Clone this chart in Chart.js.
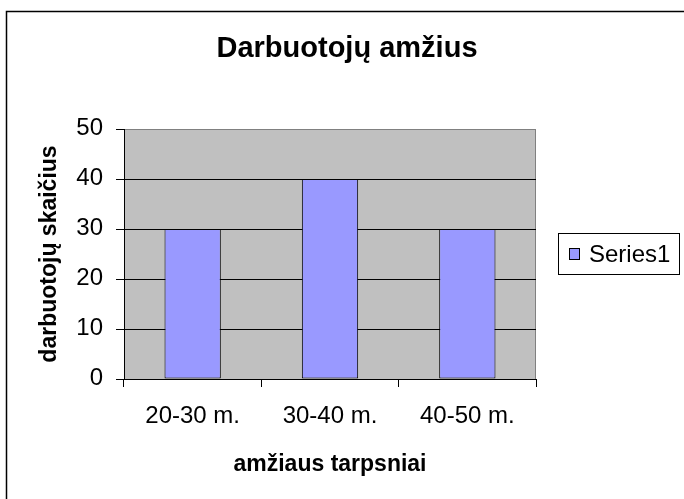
<!DOCTYPE html>
<html>
<head>
<meta charset="utf-8">
<script src="https://cdn.jsdelivr.net/npm/chart.js@4"></script>
<style>
  html, body { margin: 0; padding: 0; background: #fff; }
  #wrap { width: 684px; height: 499px; }
</style>
</head>
<body>
<div id="wrap"><canvas id="c" width="684" height="499"></canvas></div>
<script>
const chartTitle = 'Darbuotojų amžius';
const categories = ['20-30 m.', '30-40 m.', '40-50 m.'];
const seriesName = 'Series1';
const seriesValues = [30, 40, 30];
const yMin = 0, yMax = 50, yStep = 10;
const xTitle = 'amžiaus tarpsniai';
const yTitle = 'darbuotojų skaičius';

const FONT = "'Liberation Sans', Arial, sans-serif";

const decor = {
  id: 'decor',
  beforeDraw(chart) {
    const ctx = chart.ctx;
    const a = chart.chartArea;
    ctx.save();
    ctx.fillStyle = '#ffffff';
    ctx.fillRect(0, 0, chart.width, chart.height);
    // outer frame
    ctx.strokeStyle = '#000000';
    ctx.lineWidth = 1.5;
    ctx.strokeRect(6.5, 11.5, 800, 600);
    // plot background
    ctx.fillStyle = '#C0C0C0';
    ctx.fillRect(a.left, a.top, a.right - a.left, a.bottom - a.top);
    ctx.strokeStyle = '#808080';
    ctx.lineWidth = 1;
    ctx.beginPath();
    ctx.moveTo(a.left, a.top + 0.5);
    ctx.lineTo(a.right - 0.5, a.top + 0.5);
    ctx.lineTo(a.right - 0.5, a.bottom);
    ctx.stroke();
    // chart title (centred on the whole frame)
    ctx.fillStyle = '#000000';
    ctx.font = 'bold 29px ' + FONT;
    ctx.textAlign = 'center';
    ctx.textBaseline = 'middle';
    ctx.fillText(chartTitle, 347, 49);
    ctx.restore();
  },
  afterDraw(chart) {
    const ctx = chart.ctx;
    const ds = chart.data.datasets[0];
    ctx.save();
    // legend box
    ctx.fillStyle = '#ffffff';
    ctx.fillRect(558, 233, 121, 41);
    ctx.strokeStyle = '#000000';
    ctx.lineWidth = 1;
    ctx.strokeRect(558.5, 233.5, 121, 41);
    ctx.fillStyle = ds.backgroundColor;
    ctx.fillRect(569.5, 248.5, 10, 11);
    ctx.strokeRect(569.5, 248.5, 10, 11);
    ctx.fillStyle = '#000000';
    ctx.font = '24px ' + FONT;
    ctx.textBaseline = 'middle';
    ctx.textAlign = 'left';
    ctx.fillText(ds.label, 589, 255);
    ctx.restore();
  }
};

new Chart(document.getElementById('c'), {
  type: 'bar',
  data: {
    labels: categories,
    datasets: [{
      label: seriesName,
      data: seriesValues,
      backgroundColor: '#9999FF',
      borderColor: '#000000',
      borderWidth: 1,
      borderSkipped: false,
      categoryPercentage: 1,
      barPercentage: 0.41
    }]
  },
  options: {
    responsive: false,
    animation: false,
    devicePixelRatio: 1,
    layout: { padding: { left: 10, right: 148, top: 129, bottom: 0 } },
    plugins: {
      legend: { display: false },
      tooltip: { enabled: false },
      title: { display: false }
    },
    scales: {
      x: {
        offset: true,
        grid: {
          offset: true,
          drawOnChartArea: false,
          drawTicks: true,
          tickLength: 8,
          tickColor: '#000000',
          color: '#000000'
        },
        border: { display: true, color: '#000000', width: 1 },
        ticks: {
          color: '#000000',
          padding: 15,
          maxRotation: 0,
          font: { family: FONT, size: 24 }
        },
        title: {
          display: true,
          text: xTitle,
          color: '#000000',
          font: { family: FONT, size: 23, weight: 'bold', lineHeight: 1.2 },
          padding: { top: 0, bottom: 21 }
        },
        afterFit(scale) { scale.height = 120; }
      },
      y: {
        min: yMin,
        max: yMax,
        grid: {
          color: (c) => (c.tick && c.tick.value === yMax) ? '#808080' : '#000000',
          lineWidth: 1,
          drawTicks: true,
          tickLength: 8,
          tickColor: '#000000'
        },
        border: { display: true, color: '#000000', width: 1 },
        ticks: {
          stepSize: yStep,
          color: '#000000',
          padding: 13,
          labelOffset: -1,
          font: { family: FONT, size: 24 }
        },
        title: {
          display: true,
          text: yTitle,
          color: '#000000',
          font: { family: FONT, size: 23, weight: 'bold', lineHeight: 1.2 },
          padding: { top: 26, bottom: 0 }
        },
        afterFit(scale) { scale.width = 114; }
      }
    }
  },
  plugins: [decor]
});
</script>
</body>
</html>
